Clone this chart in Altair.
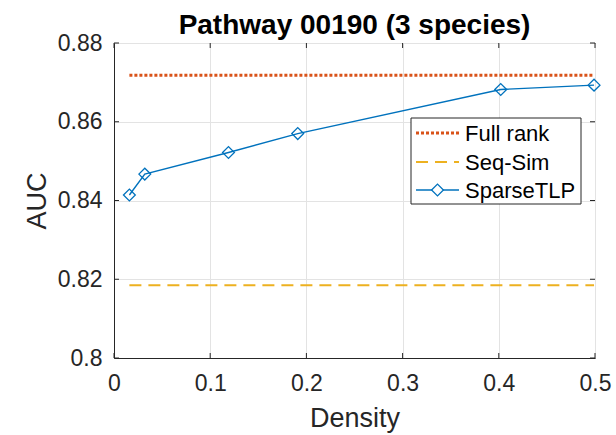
import altair as alt
import pandas as pd

# Measured AUC as a function of factor density
density = [0.016, 0.032, 0.119, 0.191, 0.402, 0.499]
sparse_tlp = [0.8414, 0.8467, 0.8522, 0.8570, 0.8682, 0.8693]
full_rank = 0.8718
seq_sim = 0.8185

series = ["Full rank", "Seq-Sim", "SparseTLP"]
colors = ["#D95319", "#EDB120", "#0072BD"]

x_ticks = [0, 0.1, 0.2, 0.3, 0.4, 0.5]
y_ticks = [0.8, 0.82, 0.84, 0.86, 0.88]

W, H = 481, 315
FONT = "Liberation Sans"
INK = "#262626"

curve = pd.DataFrame({"density": density, "auc": sparse_tlp})
full_df = pd.DataFrame({"density": density, "auc": [full_rank] * len(density)})
seq_df = pd.DataFrame({"density": density, "auc": [seq_sim] * len(density)})
xt = pd.DataFrame({"density": x_ticks})
yt = pd.DataFrame({"auc": y_ticks})

x_scale = alt.Scale(domain=[0, 0.5], nice=False, zero=False)
y_scale = alt.Scale(domain=[0.8, 0.88], nice=False, zero=False)

x_enc = alt.X(
    "density:Q", scale=x_scale,
    axis=alt.Axis(values=x_ticks, format="~g", title="Density", ticks=False,
                  labelFlush=False, labelPadding=14,
                  titleBaseline="alphabetic", titleY=68),
)
y_enc = alt.Y(
    "auc:Q", scale=y_scale,
    axis=alt.Axis(values=y_ticks, format="~g", title="AUC", ticks=False,
                  labelFlush=False, labelPadding=12,
                  titleBaseline="alphabetic", titleX=-69),
)

FULL_STYLE = dict(strokeWidth=3, strokeDash=[3, 2])
SEQ_STYLE = dict(strokeWidth=2, strokeDash=[12, 7])
TLP_STYLE = dict(strokeWidth=1.4)

full_line = alt.Chart(full_df).mark_line(color=colors[0], **FULL_STYLE).encode(x=x_enc, y=y_enc)
seq_line = alt.Chart(seq_df).mark_line(color=colors[1], **SEQ_STYLE).encode(x=x_enc, y=y_enc)
tlp_line = alt.Chart(curve).mark_line(color=colors[2], **TLP_STYLE).encode(x=x_enc, y=y_enc)

tlp_pts = alt.Chart(curve).mark_point(
    shape="diamond", size=140, filled=False, color=colors[2], strokeWidth=1.3, opacity=1
).encode(x=x_enc, y=y_enc)

# inward tick marks on all four sides of the box
tick_bottom = alt.Chart(xt).mark_rule(color=INK, strokeWidth=1).encode(
    x=x_enc, y=alt.value(H), y2=alt.value(H - 5))
tick_top = alt.Chart(xt).mark_rule(color=INK, strokeWidth=1).encode(
    x=x_enc, y=alt.value(0), y2=alt.value(5))
tick_left = alt.Chart(yt).mark_rule(color=INK, strokeWidth=1).encode(
    y=y_enc, x=alt.value(0), x2=alt.value(5))
tick_right = alt.Chart(yt).mark_rule(color=INK, strokeWidth=1).encode(
    y=y_enc, x=alt.value(W), x2=alt.value(W - 5))

# legend box in the upper right
leg_rows = [90, 119, 147]
leg_styles = [FULL_STYLE, SEQ_STYLE, TLP_STYLE]

legend_layers = [
    alt.Chart(pd.DataFrame({"name": series[:1]})).mark_rect(
        fill="white", stroke=INK, strokeWidth=1
    ).encode(x=alt.value(297), x2=alt.value(467), y=alt.value(75), y2=alt.value(161))
]
for name, col, row, style in zip(series, colors, leg_rows, leg_styles):
    d = pd.DataFrame({"name": [name]})
    legend_layers.append(
        alt.Chart(d).mark_rule(color=col, **style).encode(
            x=alt.value(302), x2=alt.value(345), y=alt.value(row))
    )
    if name == "SparseTLP":
        legend_layers.append(
            alt.Chart(d).mark_point(
                shape="diamond", size=140, filled=False, color=col,
                fill="white", fillOpacity=1, strokeWidth=1.3, opacity=1
            ).encode(x=alt.value(323.5), y=alt.value(row))
        )
    legend_layers.append(
        alt.Chart(d).mark_text(
            align="left", baseline="middle", font=FONT, fontSize=22, color="black", dy=1
        ).encode(x=alt.value(351), y=alt.value(row), text="name:N")
    )

chart = alt.layer(
    full_line, seq_line, tlp_line, tlp_pts,
    tick_bottom, tick_top, tick_left, tick_right,
    *legend_layers,
).properties(
    width=W, height=H,
    title=alt.TitleParams(
        "Pathway 00190 (3 species)", font=FONT, fontSize=28, fontWeight="bold",
        color="black", anchor="middle", offset=-8,
    ),
    autosize=alt.AutoSizeParams(type="none"),
    padding={"left": 114, "top": 43, "right": 21, "bottom": 77},
    background="white",
).configure_view(
    stroke=INK, strokeWidth=1
).configure_axis(
    labelFont=FONT, labelFontSize=23, labelColor=INK,
    titleFont=FONT, titleFontSize=27, titleFontWeight="normal", titleColor=INK,
    domainColor=INK, domainWidth=1,
    gridColor="#e3e3e3", gridWidth=1,
)

chart.save("out.html", embed_options={"renderer": "svg", "actions": False})
